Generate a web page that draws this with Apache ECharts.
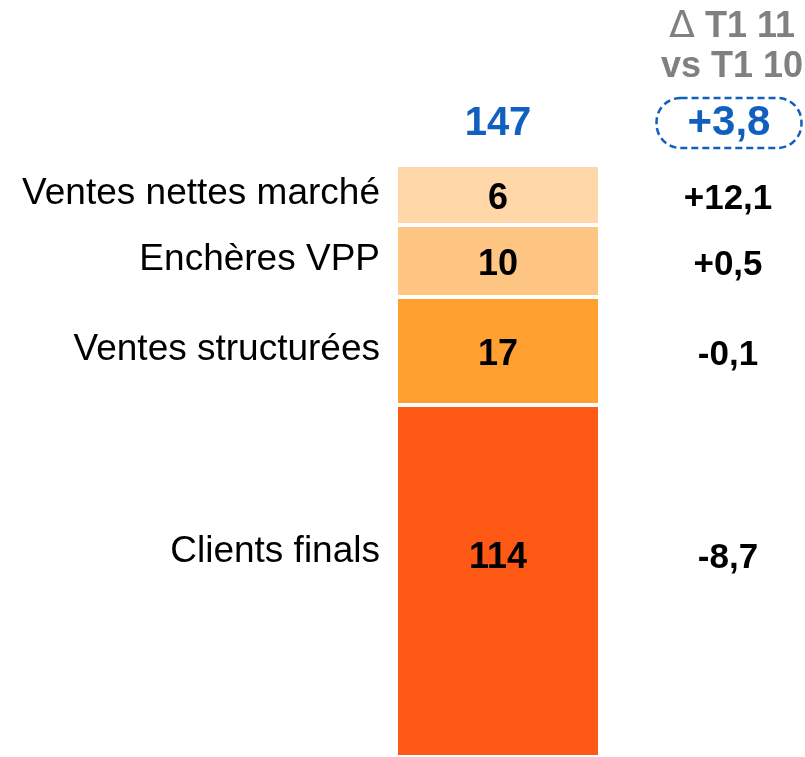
<!DOCTYPE html>
<html>
<head>
<meta charset="utf-8">
<title>T1 11</title>
<style>
    html,body{margin:0;padding:0;background:#fff;}
    #main{width:805px;height:757px;}
</style>
</head>
<body>
<div id="main"></div>
<script src="https://cdn.jsdelivr.net/npm/echarts@6/dist/echarts.min.js"></script>
<script>
    // bottom to top
    var categories = ['Clients finals', 'Ventes structurées', 'Enchères VPP', 'Ventes nettes marché'];
    var values = [114, 17, 10, 6];
    var deltas = ['-8,7', '-0,1', '+0,5', '+12,1'];
    // segment heights as drawn in the picture (the bar is not to scale)
    var barHeights = [352, 108, 72, 60];
    var total = 147;
    var totalDelta = '+3,8';

    var colors = ['#FF5A15', '#FFA031', '#FFC582', '#FFD7A8'];
    var blue = '#1160BF';
    var font = 'Liberation Sans, Arial, sans-serif';

    var dom = document.getElementById('main');
    var myChart = echarts.init(dom);

    var fullHeight = 0;
    for (var k = 0; k < barHeights.length; k++) fullHeight += barHeights[k];

    var series = [];
    // visible segments with their values
    categories.forEach(function (name, i) {
        series.push({
            name: name,
            type: 'bar',
            stack: 'seg',
            barWidth: '100%',
            barGap: '-100%',
            silent: true,
            itemStyle: {color: colors[i], borderColor: '#fff', borderWidth: 2},
            label: {
                show: true,
                position: 'inside',
                offset: [0, i === 0 ? -23 : 4],
                formatter: String(values[i]),
                fontFamily: font, fontSize: 36, fontWeight: 'bold', color: '#000'
            },
            data: [barHeights[i]]
        });
    });
    // category names on the left
    categories.forEach(function (name, i) {
        series.push({
            type: 'bar',
            stack: 'names',
            barWidth: '100%',
            barGap: '-100%',
            silent: true,
            itemStyle: {color: 'transparent'},
            label: {
                show: true,
                position: 'left',
                distance: 16,
                offset: [0, i === 0 ? -29 : -1],
                formatter: name,
                fontFamily: font, fontSize: 37, color: '#000'
            },
            data: [barHeights[i]]
        });
    });
    // deltas on the right
    categories.forEach(function (name, i) {
        series.push({
            type: 'bar',
            stack: 'deltas',
            barWidth: '100%',
            barGap: '-100%',
            silent: true,
            itemStyle: {color: 'transparent'},
            label: {
                show: true,
                position: 'right',
                distance: 78,
                offset: [0, i === 0 ? -23 : 4],
                formatter: '{d|' + deltas[i] + '}',
                rich: {d: {width: 100, align: 'center', fontFamily: font, fontSize: 35, fontWeight: 'bold', color: '#000'}}
            },
            data: [barHeights[i]]
        });
    });
    // total on top
    series.push({
        type: 'bar',
        barWidth: '100%',
        barGap: '-100%',
        silent: true,
        itemStyle: {color: 'transparent'},
        label: {
            show: true,
            position: 'top',
            distance: 21,
            formatter: String(total),
            fontFamily: font, fontSize: 40, fontWeight: 'bold', color: blue, lineHeight: 40
        },
        data: [fullHeight]
    });
    // total delta in its dashed box
    series.push({
        type: 'bar',
        barWidth: '100%',
        barGap: '-100%',
        silent: true,
        itemStyle: {color: 'transparent'},
        label: {
            show: true,
            position: 'top',
            distance: 17,
            offset: [231, 0],
            formatter: totalDelta,
            fontFamily: font, fontSize: 42, fontWeight: 'bold', color: blue, lineHeight: 40,
            borderColor: blue, borderWidth: 2.5, borderType: [7, 4], borderRadius: 24,
            padding: [5, 31, 5, 31]
        },
        data: [fullHeight]
    });

    var option = {
        animation: false,
        title: {
            text: '{t|Δ} T1 11\nvs T1 10',
            left: 727,
            top: 2,
            textAlign: 'center',
            textStyle: {
                fontFamily: font, fontSize: 36, fontWeight: 'bold', color: '#808080', lineHeight: 40,
                rich: {t: {fontFamily: 'DejaVu Sans, sans-serif', fontSize: 38, fontWeight: 'normal', color: '#808080', lineHeight: 40}}
            }
        },
        grid: {left: 396, right: 205, top: 165, bottom: 0},
        xAxis: {type: 'category', data: ['T1 11'], show: false},
        yAxis: {type: 'value', min: 0, max: fullHeight, show: false},
        series: series
    };

    if (option && typeof option === "object") {
        myChart.setOption(option, true);
    }
</script>
</body>
</html>
